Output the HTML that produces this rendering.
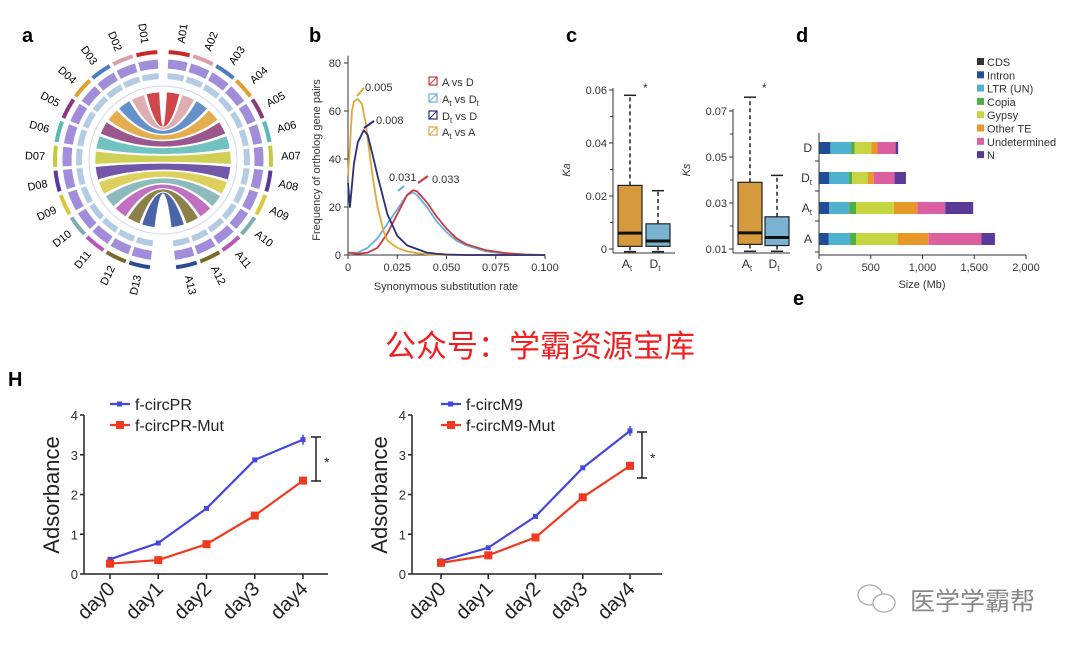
<!DOCTYPE html>
<html><head><meta charset="utf-8">
<style>
html,body{margin:0;padding:0;background:#fff;}
svg{display:block;font-family:"Liberation Sans","Noto Sans CJK SC",sans-serif;}
</style></head>
<body>
<svg id="root" width="1080" height="648" viewBox="0 0 1080 648" xmlns="http://www.w3.org/2000/svg">
<g id="pa"></g>
<g id="pb"></g>
<g id="pc"></g>
<g id="pd"></g>
<g id="ph"></g>
<text x="22" y="42" font-size="20" font-weight="bold">a</text>
<text x="309" y="42" font-size="20" font-weight="bold">b</text>
<text x="566" y="42" font-size="20" font-weight="bold">c</text>
<text x="796" y="42" font-size="20" font-weight="bold">d</text>
<text x="793" y="305" font-size="20" font-weight="bold">e</text>
<text x="8" y="386" font-size="20" font-weight="bold">H</text>
<text x="540" y="357" font-size="31" fill="#f02020" text-anchor="middle">公众号：学霸资源宝库</text>
<g fill="none" stroke="#aaa" stroke-width="1.3">
<ellipse cx="870" cy="595" rx="12" ry="10"/><ellipse cx="884" cy="603" rx="11" ry="9" fill="#fff"/>
</g>
<text x="910" y="610" font-size="25" fill="#888">医学学霸帮</text>
</svg>
<script>
var NS="http://www.w3.org/2000/svg";
function mk(p,t,a,txt){var e=document.createElementNS(NS,t);for(var k in a)e.setAttribute(k,a[k]);if(txt!==undefined)e.textContent=txt;p.appendChild(e);return e;}

/* ---------- panel a circos (decorative) ---------- */
var chrA=["A01","A02","A03","A04","A05","A06","A07","A08","A09","A10","A11","A12","A13"];
var chrD=["D01","D02","D03","D04","D05","D06","D07","D08","D09","D10","D11","D12","D13"];
var chrColors=["#c8282a","#d9a0a8","#4a7ec0","#e0a030","#8a3a7a","#5ab8b8","#c8c83a","#5a3a9a","#d8c840","#7ab0b0","#b858b8","#7a6a2a","#2a4a9a"];
(function(){
var g=document.getElementById('pa');var cx=163,cy=160;
function pt(r,a){var t=(a-90)*Math.PI/180;return [cx+r*Math.cos(t),cy+r*Math.sin(t)];}
function arc(r,a0,a1){var p0=pt(r,a0),p1=pt(r,a1);return "M"+p0[0]+","+p0[1]+" A"+r+","+r+" 0 0 1 "+p1[0]+","+p1[1];}
var step=180/13.6;
function aAng(i){var s=3+i*step;return [s,s+step-2];}
function dAng(i){var s=357-i*step;return [s-step+2,s];}
for(var i=0;i<13;i++){
 var a=aAng(i),d=dAng(i),r=68;
 var p0=pt(r,a[0]),p1=pt(r,a[1]),q0=pt(r,d[0]),q1=pt(r,d[1]);
 var dd="M"+p0[0]+","+p0[1]+" A"+r+","+r+" 0 0 1 "+p1[0]+","+p1[1]+" Q"+cx+","+cy+" "+q0[0]+","+q0[1]+" A"+r+","+r+" 0 0 1 "+q1[0]+","+q1[1]+" Q"+cx+","+cy+" "+p0[0]+","+p0[1]+"Z";
 var rb=mk(g,'path',{d:dd,fill:chrColors[i],opacity:0.85,stroke:"#fff","stroke-width":0.6});
 
 
}
function drawChr(names,angf){
 for(var i=0;i<13;i++){
  var a=angf(i);
  var c=mk(g,'path',{d:arc(108,a[0],a[1]),stroke:chrColors[i],"stroke-width":4,fill:"none"});
  
  
  mk(g,'path',{d:arc(96,a[0],a[1]),stroke:"#8a70d0","stroke-width":9,fill:"none",opacity:0.8});
  mk(g,'path',{d:arc(84,a[0],a[1]),stroke:"#6a9ac8","stroke-width":6,fill:"none",opacity:0.5});
  var m=(a[0]+a[1])/2,p=pt(128,m);
  var t=mk(g,'text',{x:p[0],y:p[1]+4,"font-size":11,"text-anchor":"middle",transform:"rotate("+(m>180?m-270:m-90)+" "+p[0]+" "+p[1]+")"},names[i]);
  
  
 }
}
drawChr(chrA,aAng);drawChr(chrD,dAng);
mk(g,'circle',{cx:cx,cy:cy,r:74,fill:"none",stroke:"#cfd8e8","stroke-width":1});
})();

/* ---------- panel b density ---------- */
var bX1=[0,0.005,0.01,0.015,0.02,0.025,0.03,0.033,0.035,0.04,0.045,0.05,0.055,0.06,0.07,0.08,0.09,0.1];
var bAvsD=[1,0.5,1,3,9,17,25,27,26.5,22,16,11,7,4.5,2,0.8,0.2,0];
var bAtvsDt=[1,1,3,7,13,19,25,26,25,20,14,9.5,6,4,1.5,0.5,0.1,0];
var bX2=[0,0.001,0.003,0.005,0.008,0.01,0.013,0.015,0.02,0.025,0.03,0.035,0.04,0.045,0.05,0.06,0.1];
var bDtvsD=[30,20,38,47,52,50,40,33,17,8,4,2.5,1,0.5,0.2,0,0];
var bX3=[0,0.001,0.002,0.003,0.005,0.007,0.009,0.011,0.013,0.015,0.018,0.02,0.025,0.03,0.035,0.04,0.05,0.1];
var bAtvsA=[33,45,60,64,65,63,55,42,30,20,10,6,3,1.5,0.8,0.3,0,0];
var bXTicks=[0,0.025,0.05,0.075,0.1];var bXTickLabels=["0","0.025","0.050","0.075","0.100"];
var bYTicks=[0,20,40,60,80];
(function(){
var g=document.getElementById('pb');
function X(v){return 348+v*1970;}function Y(v){return 255-v*2.4;}
mk(g,'line',{x1:348,y1:Y(0),x2:X(0.1),y2:Y(0),stroke:"#333"});
mk(g,'line',{x1:348,y1:Y(0),x2:348,y2:Y(83),stroke:"#333"});
bXTicks.forEach(function(v,i){mk(g,'line',{x1:X(v),y1:255,x2:X(v),y2:259,stroke:"#333"});var t=mk(g,'text',{x:X(v),y:271,"font-size":11,"text-anchor":"middle",fill:"#333"},bXTickLabels[i]);});
bYTicks.forEach(function(v){mk(g,'line',{x1:344,y1:Y(v),x2:348,y2:Y(v),stroke:"#333"});var t=mk(g,'text',{x:341,y:Y(v)+4,"font-size":11,"text-anchor":"end",fill:"#333"},v);});
var xl=mk(g,'text',{x:446,y:290,"font-size":11,"text-anchor":"middle",fill:"#333"},"Synonymous substitution rate");
var yl=mk(g,'text',{x:320,y:160,"font-size":11,"text-anchor":"middle",fill:"#333",transform:"rotate(-90 320 160)"},"Frequency of ortholog gene pairs");
function line(xs,ys,c,name){var d=xs.map(function(x,i){return (i?"L":"M")+X(x)+","+Y(ys[i]);}).join("");var p=mk(g,'path',{d:d,fill:"none",stroke:c,"stroke-width":1.8,"stroke-linejoin":"round"});}
line(bX1,bAtvsDt,"#6aaedc","line-at-vs-dt");line(bX1,bAvsD,"#c83a40","line-a-vs-d");
line(bX3,bAtvsA,"#e0a838","line-at-vs-a");line(bX2,bDtvsD,"#2a2f78","line-dt-vs-d");
var ann=[[365,91,"0.005"],[376,124,"0.008"],[389,181,"0.031"],[432,183,"0.033"]];
ann.forEach(function(a){var t=mk(g,'text',{x:a[0],y:a[1],"font-size":11,fill:"#333"},a[2]);});
mk(g,'path',{d:"M364,88 L357,96",stroke:"#e0a838","stroke-width":2});
mk(g,'path',{d:"M374,121 L364,128",stroke:"#2a2f78","stroke-width":2});
mk(g,'path',{d:"M404,186 L398,191",stroke:"#6aaedc","stroke-width":2});
mk(g,'path',{d:"M428,176 L418,183",stroke:"#c83a40","stroke-width":2});
var leg=[["A vs D","#c83a40"],["At vs Dt","#6aaedc"],["Dt vs D","#2a2f78"],["At vs A","#e0a838"]];
var ly=[82,99,116,132];
leg.forEach(function(l,i){var y=ly[i];mk(g,'rect',{x:429,y:y-5,width:8,height:8,fill:"none",stroke:l[1],"stroke-width":1.2});mk(g,'line',{x1:429,y1:y+3,x2:437,y2:y-5,stroke:l[1]});
var t=mk(g,'text',{x:442,y:y+4,"font-size":11,fill:"#333"});
var s=l[0];if(s.indexOf("At")===0||s.indexOf("Dt")===0){mk(t,'tspan',{},s[0]);mk(t,'tspan',{"font-size":8,dy:3},"t");mk(t,'tspan',{dy:-3},s.slice(2).replace("Dt","D"));if(s.slice(-2)==="Dt"){mk(t,'tspan',{"font-size":8,dy:3},"t");}}else t.textContent=s;});
})();

/* ---------- panel c boxplots ---------- */
var cGroups=["A","D"];
var kaStats=[[-0.001,0.001,0.006,0.024,0.058],[-0.001,0.001,0.003,0.0095,0.022]];
var ksStats=[[0.009,0.012,0.017,0.039,0.076],[0.009,0.0115,0.015,0.024,0.042]];
var kaTicks=[0,0.02,0.04,0.06];var ksTicks=[0.01,0.03,0.05,0.07];
(function(){
var g=document.getElementById('pc');
function panel(ax,xEnd,y0v,y1v,y0p,y1p,ticks,stats,lab,boxX,star){
 function Y(v){return y0p+(v-y0v)*(y1p-y0p)/(y1v-y0v);}
 mk(g,'line',{x1:ax,y1:253,x2:xEnd,y2:253,stroke:"#333"});
 mk(g,'line',{x1:ax,y1:253,x2:ax,y2:Y(ticks[ticks.length-1])-2,stroke:"#333"});
 ticks.forEach(function(v){mk(g,'line',{x1:ax-4,y1:Y(v),x2:ax,y2:Y(v),stroke:"#333"});var t=mk(g,'text',{x:ax-6,y:Y(v)+4,"font-size":11,"text-anchor":"end",fill:"#333"},(ticks===kaTicks&&v===0)?"0":v.toFixed(2));});
 for(var k=0;k+1<ticks.length;k++){var m=Y((ticks[k]+ticks[k+1])/2);mk(g,'line',{x1:ax-3,y1:m,x2:ax,y2:m,stroke:"#333"});}
 var yl=mk(g,'text',{x:ax-43,y:170,"font-size":11,"font-style":"italic","text-anchor":"middle",transform:"rotate(-90 "+(ax-43)+" 170)",fill:"#333"},lab);
 var cols=["#d69a3c","#79b3d0"];
 stats.forEach(function(s,i){var x=boxX[i],w=24,c=x+w/2;
  mk(g,'line',{x1:c,y1:Y(s[3]),x2:c,y2:Y(s[4]),stroke:"#222","stroke-width":1.5,"stroke-dasharray":"4,3"});
  mk(g,'line',{x1:c,y1:Y(s[1]),x2:c,y2:Y(s[0]),stroke:"#222","stroke-width":1.5,"stroke-dasharray":"4,3"});
  mk(g,'line',{x1:c-6,y1:Y(s[4]),x2:c+6,y2:Y(s[4]),stroke:"#222","stroke-width":1.5});
  mk(g,'line',{x1:c-6,y1:Y(s[0]),x2:c+6,y2:Y(s[0]),stroke:"#222","stroke-width":1.5});
  var b=mk(g,'rect',{x:x,y:Y(s[3]),width:w,height:Y(s[1])-Y(s[3]),fill:cols[i],stroke:"#222","stroke-width":1.2});
  mk(g,'line',{x1:x,y1:Y(s[2]),x2:x+w,y2:Y(s[2]),stroke:"#111","stroke-width":3});
  var t=mk(g,'text',{x:c-3,y:268,"font-size":12,"text-anchor":"middle",fill:"#333"},cGroups[i]);mk(t,'tspan',{"font-size":8,dy:3},"t");
 });
 mk(g,'text',{x:star,y:92,"font-size":12,fill:"#333"},"*");
}
panel(613,675,0,0.06,249,90,kaTicks,kaStats,"Ka",[618,646],643);
panel(733,790,0.01,0.07,249,111,ksTicks,ksStats,"Ks",[738,765],762);
})();

/* ---------- panel d stacked bars ---------- */
var dGenomes=["D","Dt","At","A"];
var dCategories=["CDS","Intron","LTR (UN)","Copia","Gypsy","Other TE","Undetermined","N"];
var dCDS=[3,3,3,3];
var dIntron=[107,97,97,92];
var dLTR=[200,190,195,205];
var dCopia=[35,30,65,60];
var dGypsy=[160,150,365,400];
var dOtherTE=[60,60,225,300];
var dUndet=[175,200,270,510];
var dN=[25,110,270,130];
var dXTicks=[0,500,1000,1500,2000];var dXTickLabels=["0","500","1,000","1,500","2,000"];
(function(){
var g=document.getElementById('pd');
var cols=["#333333","#1f4e96","#4fb3d0","#4eae45","#c6d640","#e8972a","#dc5fa0","#5a3a98"];
var series=[dCDS,dIntron,dLTR,dCopia,dGypsy,dOtherTE,dUndet,dN];
function X(v){return 819+v*0.1035;}
var rowY=[148,178,208,239];
mk(g,'line',{x1:819,y1:255,x2:X(2000),y2:255,stroke:"#333"});
mk(g,'line',{x1:819,y1:133,x2:819,y2:255,stroke:"#333"});
dXTicks.forEach(function(v,i){mk(g,'line',{x1:X(v),y1:255,x2:X(v),y2:259,stroke:"#333"});var t=mk(g,'text',{x:X(v),y:271,"font-size":11,"text-anchor":"middle",fill:"#333"},dXTickLabels[i]);});
var xl=mk(g,'text',{x:922,y:288,"font-size":11,"text-anchor":"middle",fill:"#333"},"Size (Mb)");
dGenomes.forEach(function(gn,r){var y=rowY[r];mk(g,'line',{x1:815,y1:y+13,x2:819,y2:y+13,stroke:"#333"});
 var t=mk(g,'text',{x:812,y:y+4,"font-size":12,"text-anchor":"end",fill:"#333"},gn[0]);if(gn.length>1)mk(t,'tspan',{"font-size":8,dy:3},"t");
 var acc=0;series.forEach(function(s,k){var b=mk(g,'rect',{x:X(acc),y:y-6,width:s[r]*0.1035,height:12,fill:cols[k]});acc+=s[r];});});
dCategories.forEach(function(c,k){var y=62+k*13.3;mk(g,'rect',{x:977,y:y-4,width:7,height:7,fill:cols[k]});var t=mk(g,'text',{x:987,y:y+4,"font-size":11,fill:"#333"},c);});
})();

/* ---------- panel H line charts ---------- */
var hDays=["day0","day1","day2","day3","day4"];
var hPR=[0.37,0.78,1.65,2.87,3.38];
var hPRMut=[0.26,0.35,0.75,1.47,2.35];
var hM9=[0.33,0.66,1.45,2.67,3.6];
var hM9Mut=[0.28,0.47,0.92,1.93,2.72];
var hYTicks=[0,1,2,3,4];
(function(){
var g=document.getElementById('ph');
function chart(ax,x0,dx,xEnd,blue,red,names,brX,brTop,brBot){
 function X(i){return x0+i*dx;}function Y(v){return 574-v*39.75;}
 mk(g,'line',{x1:ax,y1:574,x2:xEnd,y2:574,stroke:"#222","stroke-width":1.5});
 mk(g,'line',{x1:ax,y1:574,x2:ax,y2:Y(4),stroke:"#222","stroke-width":1.5});
 hYTicks.forEach(function(v){mk(g,'line',{x1:ax-4,y1:Y(v),x2:ax,y2:Y(v),stroke:"#222","stroke-width":1.5});var t=mk(g,'text',{x:ax-6,y:Y(v)+5,"font-size":13,"text-anchor":"end",fill:"#333"},v);});
 hDays.forEach(function(d,i){mk(g,'line',{x1:X(i),y1:574,x2:X(i),y2:579,stroke:"#222","stroke-width":1.5});var t=mk(g,'text',{x:X(i)+6,y:590,"font-size":20,"text-anchor":"end",fill:"#222",transform:"rotate(-45 "+(X(i)+6)+" 590)"},d);});
 var yl=mk(g,'text',{x:ax-25,y:495,"font-size":22,"text-anchor":"middle",fill:"#222",transform:"rotate(-90 "+(ax-25)+" 495)"},"Adsorbance");
 [[blue,"#4646e0",5,names[0]],[red,"#f03a20",8,names[1]]].forEach(function(s){
  var d=s[0].map(function(v,i){return (i?"L":"M")+X(i)+","+Y(v);}).join("");
  var p=mk(g,'path',{d:d,fill:"none",stroke:s[1],"stroke-width":2.2});
  s[0].forEach(function(v,i){var m=mk(g,'rect',{x:X(i)-s[2]/2,y:Y(v)-s[2]/2,width:s[2],height:s[2],fill:s[1]});});
 });
 mk(g,'line',{x1:X(4),y1:Y(blue[4])-5,x2:X(4),y2:Y(blue[4])+5,stroke:"#4646e0","stroke-width":1.5});
 var lx=x0;
 mk(g,'line',{x1:lx,y1:404,x2:lx+20,y2:404,stroke:"#4646e0","stroke-width":2.2});mk(g,'rect',{x:lx+7,y:401.5,width:5,height:5,fill:"#4646e0"});
 mk(g,'line',{x1:lx,y1:425,x2:lx+20,y2:425,stroke:"#f03a20","stroke-width":2.2});mk(g,'rect',{x:lx+6,y:421,width:8,height:8,fill:"#f03a20"});
 var t1=mk(g,'text',{x:lx+25,y:410,"font-size":16,fill:"#222"},names[0]);
 var t2=mk(g,'text',{x:lx+25,y:431,"font-size":16,fill:"#222"},names[1]);
 var br=mk(g,'path',{d:"M"+(brX-5)+","+brTop+" H"+(brX+5)+" M"+brX+","+brTop+" V"+brBot+" M"+(brX-5)+","+brBot+" H"+(brX+5),stroke:"#222","stroke-width":1.5,fill:"none"});
 mk(g,'text',{x:brX+8,y:(brTop+brBot)/2+8,"font-size":14,fill:"#222"},"*");
}
chart(84,110,48.25,328,hPR,hPRMut,["f-circPR","f-circPR-Mut"],316,437,481);
chart(412,441,47.25,662,hM9,hM9Mut,["f-circM9","f-circM9-Mut"],642,432,478);
})();
</script>
</body></html>
